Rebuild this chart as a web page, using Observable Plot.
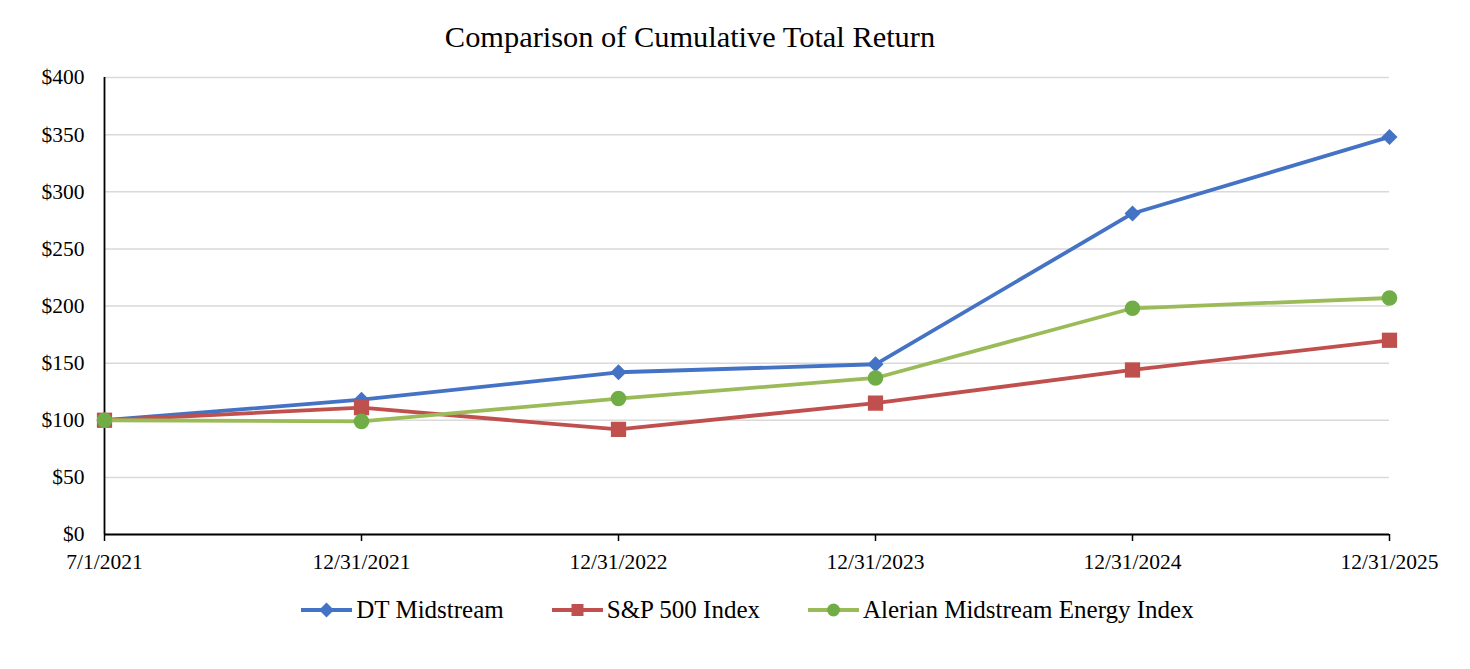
<!DOCTYPE html>
<html>
<head>
<meta charset="utf-8">
<script src="https://cdn.jsdelivr.net/npm/d3@7"></script>
<script src="https://cdn.jsdelivr.net/npm/@observablehq/plot@0.6"></script>
<style>
  html, body { margin: 0; padding: 0; background: white; }
  body { width: 1470px; font-family: "Liberation Serif", "Times New Roman", serif; color: black; }
  #title { height: 60px; box-sizing: border-box; padding-top: 20px; padding-right: 90px; text-align: center; font-size: 30.4px; line-height: 34px; }
  #chart svg { display: block; }
  #legend { display: flex; justify-content: center; align-items: center; gap: 48px; margin-top: 15px; padding-left: 25px; font-size: 25px; line-height: 30px; }
  .item { display: flex; align-items: center; gap: 4px; }
  .item svg { display: block; }
</style>
</head>
<body>
<div id="title">Comparison of Cumulative Total Return</div>
<div id="chart"></div>
<div id="legend"></div>
<script>
const dates = ["7/1/2021", "12/31/2021", "12/31/2022", "12/31/2023", "12/31/2024", "12/31/2025"];
const seriesNames = ["DT Midstream", "S&P 500 Index", "Alerian Midstream Energy Index"];
const dtMidstream = [100, 118, 142, 149, 281, 348];
const sp500 = [100, 111, 92, 115, 144, 170];
const alerian = [100, 99, 119, 137, 198, 207];
const yTicks = [0, 50, 100, 150, 200, 250, 300, 350, 400];

const seriesValues = [dtMidstream, sp500, alerian];
const lineColors = ["#4472C4", "#C0504D", "#9BBB59"];
const markColors = ["#4472C4", "#C0504D", "#70AD47"];
const symbols = ["diamond2", "square", "circle"];
const radii = [7.2, 8.6, 7.8];

const rows = seriesNames.map((name, s) => dates.map((d, i) => ({date: d, value: seriesValues[s][i], series: name})));

const marks = [
  Plot.gridY({ticks: yTicks, stroke: "#d9d9d9", strokeOpacity: 1, strokeWidth: 1.5}),
  Plot.axisY({ticks: yTicks, tickSize: 0, tickPadding: 20, tickFormat: d => "$" + d, fontSize: 21.5}),
  Plot.axisX({tickSize: 7, tickPadding: 12, stroke: "black", strokeWidth: 1.5, fontSize: 21.5}),
  Plot.ruleX([dates[0]], {stroke: "black", strokeWidth: 1.8}),
  Plot.ruleY([0], {stroke: "black", strokeWidth: 1.8})
];
rows.forEach((data, s) => {
  marks.push(Plot.line(data, {x: "date", y: "value", stroke: lineColors[s], strokeWidth: 3.8}));
  marks.push(Plot.dot(data, {x: "date", y: "value", symbol: () => symbols[s], fill: markColors[s], stroke: "none", r: radii[s]}));
});

const chart = Plot.plot({
  width: 1470,
  height: 520,
  marginTop: 17,
  marginBottom: 46,
  marginLeft: 104,
  marginRight: 81,
  x: {type: "point", domain: dates, padding: 0, label: null},
  y: {domain: [0, 400], label: null},
  symbol: {type: "identity"},
  style: {fontFamily: "'Liberation Serif', 'Times New Roman', serif", fontSize: "21.5px", color: "black", background: "white", overflow: "visible"},
  marks
});
document.getElementById("chart").appendChild(chart);

const legend = document.getElementById("legend");
const symbolPaths = [
  "M25.5,2.5 L33,10 L25.5,17.5 L18,10 Z",
  "M19.5,4 H31.5 V16 H19.5 Z",
  null
];
seriesNames.forEach((name, s) => {
  const item = document.createElement("div");
  item.className = "item";
  const marker = s === 2
    ? `<circle cx="25.5" cy="10" r="6.5" fill="${markColors[s]}"/>`
    : `<path d="${symbolPaths[s]}" fill="${markColors[s]}"/>`;
  item.innerHTML = `<svg width="51" height="20"><line x1="0" y1="10" x2="51" y2="10" stroke="${lineColors[s]}" stroke-width="3.8"/>${marker}</svg><span>${name.replace("&", "&amp;")}</span>`;
  legend.appendChild(item);
});
</script>
</body>
</html>
